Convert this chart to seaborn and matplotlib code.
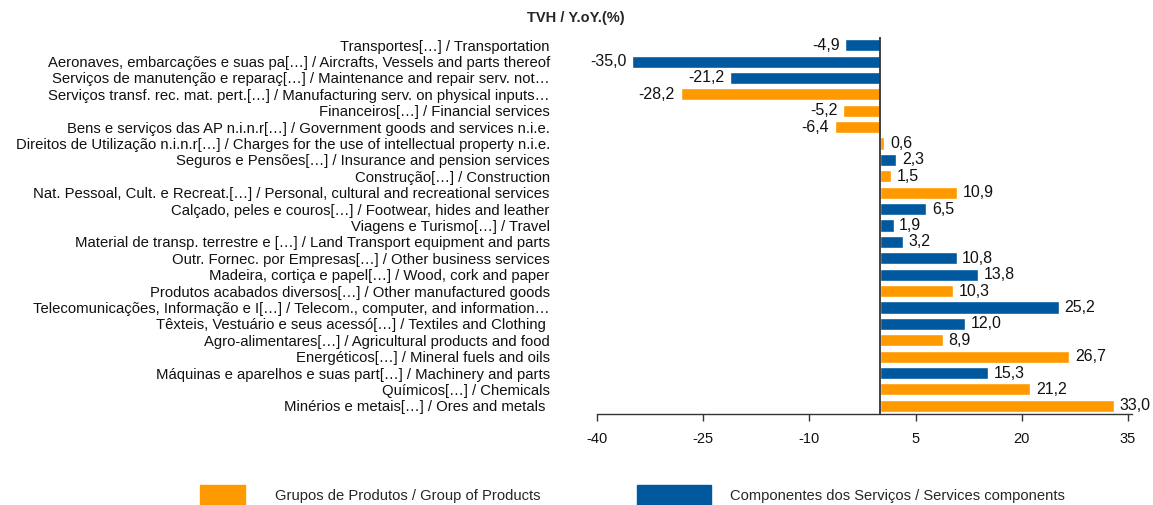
import matplotlib
matplotlib.use("Agg")
import matplotlib.pyplot as plt
import seaborn as sns
import pandas as pd
from matplotlib.patches import Rectangle

categories = [
    "Transportes[…] / Transportation",
    "Aeronaves, embarcações e suas pa[…] / Aircrafts, Vessels and parts thereof",
    "Serviços de manutenção e reparaç[…] / Maintenance and repair serv. not…",
    "Serviços transf. rec. mat. pert.[…] / Manufacturing serv. on physical inputs…",
    "Financeiros[…] / Financial services",
    "Bens e serviços das AP n.i.n.r[…] / Government goods and services n.i.e.",
    "Direitos de Utilização n.i.n.r[…] / Charges for the use of intellectual property n.i.e.",
    "Seguros e Pensões[…] / Insurance and pension services",
    "Construção[…] / Construction",
    "Nat. Pessoal, Cult. e Recreat.[…] / Personal, cultural and recreational services",
    "Calçado, peles e couros[…] / Footwear, hides and leather",
    "Viagens e Turismo[…] / Travel",
    "Material de transp. terrestre e […] / Land Transport equipment and parts",
    "Outr. Fornec. por Empresas[…] / Other business services",
    "Madeira, cortiça e papel[…] / Wood, cork and paper",
    "Produtos acabados diversos[…] / Other manufactured goods",
    "Telecomunicações, Informação e I[…] / Telecom., computer, and information…",
    "Têxteis, Vestuário e seus acessó[…] / Textiles and Clothing ",
    "Agro-alimentares[…] / Agricultural products and food",
    "Energéticos[…] / Mineral fuels and oils",
    "Máquinas e aparelhos e suas part[…] / Machinery and parts",
    "Químicos[…] / Chemicals",
    "Minérios e metais[…] / Ores and metals ",
]
values = [-4.9, -35.0, -21.2, -28.2, -5.2, -6.4, 0.6, 2.3, 1.5, 10.9, 6.5, 1.9,
          3.2, 10.8, 13.8, 10.3, 25.2, 12.0, 8.9, 26.7, 15.3, 21.2, 33.0]
G = "Grupos de Produtos / Group of Products"
S = "Componentes dos Serviços / Services components"
groups = [S, S, S, G, G, G, G, S, G, G, S, S, S, S, S, G, S, S, G, G, S, G, G]
group_order = [G, S]
group_colors = {G: "#FF9900", S: "#00589F"}
title = "TVH / Y.oY.(%)"
xticks = [-40, -25, -10, 5, 20, 35]

df = pd.DataFrame({"cat": categories, "val": values, "grp": groups})

sns.set_style("white")
plt.rcParams["font.family"] = ["Liberation Sans", "DejaVu Sans"]

fig = plt.figure(figsize=(11.53, 5.05), dpi=100)
ax = fig.add_axes([597 / 1153, 1 - 414 / 505, (1131.5 - 597) / 1153, (414 - 37) / 505])

sns.barplot(data=df, x="val", y="cat", hue="grp", hue_order=group_order,
            palette=group_colors, dodge=False, orient="h", width=0.74,
            saturation=1, legend=False, ax=ax, order=categories)

for cont in ax.containers:
    ax.bar_label(cont, fmt=lambda v: f"{v:.1f}".replace(".", ","),
                 padding=4, fontsize=11.5, color="#111111")

ax.axvline(0, color="#333333", lw=1.3, zorder=5)
ax.set_xlim(-40, 35.5)
ax.set_ylim(len(categories) - 0.5, -0.5)
ax.set_xticks(xticks)
ax.set_xticklabels([str(t) for t in xticks])
ax.set_xlabel("")
ax.set_ylabel("")
for s in ["top", "right", "left"]:
    ax.spines[s].set_visible(False)
ax.spines["bottom"].set_color("#333333")
ax.spines["bottom"].set_linewidth(1.0)
ax.tick_params(axis="x", bottom=True, direction="out", length=5, width=1,
               color="#333333", labelsize=10.5, pad=8, labelcolor="#111111")
ax.tick_params(axis="y", left=False, length=0, labelsize=10.7, pad=34,
               labelcolor="#111111")
ax.grid(False)

fig.text(576 / 1153, 1 - 18 / 505, title, ha="center", va="center",
         fontsize=10.5, fontweight="bold")

# legend
fig.patches.append(Rectangle((200 / 1153, 0), 45 / 1153, 20 / 505,
                             transform=fig.transFigure, color=group_colors[G]))
fig.patches.append(Rectangle((637 / 1153, 0), 74 / 1153, 20 / 505,
                             transform=fig.transFigure, color=group_colors[S]))
fig.text(275 / 1153, 1 - 496 / 505, G, ha="left", va="center", fontsize=10.6)
fig.text(730 / 1153, 1 - 496 / 505, S, ha="left", va="center", fontsize=10.6)

fig.savefig("out.png", dpi=100)
